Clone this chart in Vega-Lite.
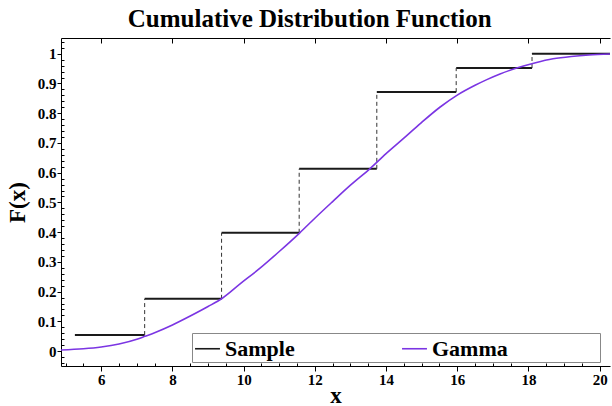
{
  "$schema": "https://vega.github.io/schema/vega-lite/v6.json",
  "autosize": "none",
  "width": 549,
  "height": 328,
  "padding": {"left": 61, "top": 38, "right": 2, "bottom": 40},
  "background": "white",
  "title": {
    "text": "Cumulative Distribution Function",
    "font": "Liberation Serif",
    "fontWeight": "bold",
    "fontSize": 25,
    "color": "black",
    "anchor": "middle",
    "frame": "bounds",
    "offset": 3
  },
  "config": {
    "view": {"stroke": null},
    "axis": {
      "domainColor": "black",
      "tickColor": "black",
      "labelColor": "black",
      "titleColor": "black",
      "labelFont": "Liberation Serif",
      "labelFontWeight": "bold",
      "labelFontSize": 15,
      "titleFont": "Liberation Serif",
      "titleFontWeight": "bold",
      "titleFontSize": 23,
      "grid": false,
      "labelFlush": false,
      "labelBound": false
    },
    "legend": {
      "labelFont": "Liberation Serif",
      "labelFontWeight": "bold",
      "labelFontSize": 22,
      "labelColor": "black"
    }
  },
  "datasets": {
    "steps": [
      {"x0": 5.26, "x1": 7.22, "F": 0.054, "series": "Sample"},
      {"x0": 7.22, "x1": 9.38, "F": 0.176, "series": "Sample"},
      {"x0": 9.38, "x1": 11.56, "F": 0.398, "series": "Sample"},
      {"x0": 11.56, "x1": 13.74, "F": 0.613, "series": "Sample"},
      {"x0": 13.74, "x1": 15.97, "F": 0.871, "series": "Sample"},
      {"x0": 15.97, "x1": 18.1, "F": 0.952, "series": "Sample"},
      {"x0": 18.1, "x1": 20.29, "F": 1.0, "series": "Sample"}
    ],
    "jumps": [
      {"x": 7.22, "F0": 0.054, "F1": 0.176},
      {"x": 9.38, "F0": 0.176, "F1": 0.398},
      {"x": 11.56, "F0": 0.398, "F1": 0.613},
      {"x": 13.74, "F0": 0.613, "F1": 0.871},
      {"x": 15.97, "F0": 0.871, "F1": 0.952},
      {"x": 18.1, "F0": 0.952, "F1": 1.0}
    ],
    "gamma": [
      {"x": 4.87, "F": 0.004, "series": "Gamma"},
      {"x": 5.5, "F": 0.008, "series": "Gamma"},
      {"x": 6.0, "F": 0.014, "series": "Gamma"},
      {"x": 6.5, "F": 0.024, "series": "Gamma"},
      {"x": 7.0, "F": 0.040, "series": "Gamma"},
      {"x": 7.23, "F": 0.050, "series": "Gamma"},
      {"x": 7.5, "F": 0.062, "series": "Gamma"},
      {"x": 8.0, "F": 0.088, "series": "Gamma"},
      {"x": 8.5, "F": 0.118, "series": "Gamma"},
      {"x": 9.0, "F": 0.150, "series": "Gamma"},
      {"x": 9.39, "F": 0.177, "series": "Gamma"},
      {"x": 9.9, "F": 0.226, "series": "Gamma"},
      {"x": 10.46, "F": 0.279, "series": "Gamma"},
      {"x": 11.0, "F": 0.335, "series": "Gamma"},
      {"x": 11.57, "F": 0.397, "series": "Gamma"},
      {"x": 12.0, "F": 0.447, "series": "Gamma"},
      {"x": 12.5, "F": 0.503, "series": "Gamma"},
      {"x": 13.0, "F": 0.558, "series": "Gamma"},
      {"x": 13.55, "F": 0.614, "series": "Gamma"},
      {"x": 14.0, "F": 0.664, "series": "Gamma"},
      {"x": 14.5, "F": 0.716, "series": "Gamma"},
      {"x": 14.96, "F": 0.765, "series": "Gamma"},
      {"x": 15.52, "F": 0.821, "series": "Gamma"},
      {"x": 16.0, "F": 0.861, "series": "Gamma"},
      {"x": 16.5, "F": 0.894, "series": "Gamma"},
      {"x": 16.83, "F": 0.913, "series": "Gamma"},
      {"x": 17.2, "F": 0.932, "series": "Gamma"},
      {"x": 17.67, "F": 0.952, "series": "Gamma"},
      {"x": 18.2, "F": 0.970, "series": "Gamma"},
      {"x": 18.69, "F": 0.983, "series": "Gamma"},
      {"x": 19.2, "F": 0.991, "series": "Gamma"},
      {"x": 19.7, "F": 0.996, "series": "Gamma"},
      {"x": 20.29, "F": 0.999, "series": "Gamma"}
    ]
  },
  "layer": [
    {
      "data": {"name": "steps"},
      "mark": {"type": "rule", "strokeWidth": 2},
      "encoding": {
        "x": {
          "field": "x0", "type": "quantitative",
          "scale": {"domain": [4.87, 20.29], "nice": false, "zero": false},
          "axis": {
            "orient": "bottom",
            "title": "x",
            "titleBaseline": "alphabetic",
            "titleY": 36,
            "labelOverlap": false,
            "tickCount": 500,
            "values": [5,5.5,6,6.5,7,7.5,8,8.5,9,9.5,10,10.5,11,11.5,12,12.5,13,13.5,14,14.5,15,15.5,16,16.5,17,17.5,18,18.5,19,19.5,20],
            "labelExpr": "datum.value % 2 == 0 ? format(datum.value, 'd') : ''",
            "tickSize": {"condition": {"test": "datum.value % 2 == 0", "value": 5}, "value": -3},
            "labelPadding": 1
          }
        },
        "x2": {"field": "x1"},
        "y": {
          "field": "F", "type": "quantitative",
          "scale": {"domain": [-0.05, 1.053], "nice": false, "zero": false},
          "axis": {
            "title": "F(x)",
            "titlePadding": 8,
            "labelOverlap": false,
            "tickCount": 500,
            "values": [-0.04,-0.02,0,0.02,0.04,0.06,0.08,0.1,0.12,0.14,0.16,0.18,0.2,0.22,0.24,0.26,0.28,0.3,0.32,0.34,0.36,0.38,0.4,0.42,0.44,0.46,0.48,0.5,0.52,0.54,0.56,0.58,0.6,0.62,0.64,0.66,0.68,0.7,0.72,0.74,0.76,0.78,0.8,0.82,0.84,0.86,0.88,0.9,0.92,0.94,0.96,0.98,1,1.02,1.04],
            "labelExpr": "abs(datum.value*10 - round(datum.value*10)) < 0.001 ? format(datum.value, '~g') : ''",
            "tickSize": {"condition": {"test": "abs(datum.value*10 - round(datum.value*10)) < 0.001", "value": 4}, "value": -3},
            "labelPadding": 1
          }
        },
        "color": {
          "field": "series", "type": "nominal",
          "scale": {"domain": ["Sample", "Gamma"], "range": ["#1a1a1a", "#7b35e3"]},
          "legend": {
            "title": "\u00a0",
            "titleOrient": "right",
            "titlePadding": 90,
            "titleFontSize": 8,
            "titleColor": "white",
            "orient": "none",
            "legendX": 131,
            "legendY": 295,
            "direction": "horizontal",
            "symbolType": "stroke",
            "symbolSize": 620,
            "symbolStrokeWidth": 1.6,
            "labelOffset": 4,
            "columnPadding": 103,
            "padding": 2,
            "fillColor": "white",
            "strokeColor": "#888888"
          }
        }
      }
    },
    {
      "data": {"name": "jumps"},
      "mark": {"type": "rule", "strokeWidth": 1, "strokeDash": [4, 3], "color": "#333333"},
      "encoding": {
        "x": {"field": "x", "type": "quantitative", "axis": null},
        "y": {"field": "F0", "type": "quantitative"},
        "y2": {"field": "F1"}
      }
    },
    {
      "data": {"name": "gamma"},
      "mark": {"type": "line", "strokeWidth": 1.6, "interpolate": "monotone"},
      "encoding": {
        "x": {
          "field": "x", "type": "quantitative",
          "axis": {
            "orient": "top",
            "title": null,
            "labels": false,
            "tickCount": 50,
            "values": [6,8,10,12,14,16,18,20],
            "tickSize": -5
          }
        },
        "y": {"field": "F", "type": "quantitative"},
        "color": {"field": "series", "type": "nominal"}
      }
    }
  ],
  "resolve": {"axis": {"x": "independent"}}
}
